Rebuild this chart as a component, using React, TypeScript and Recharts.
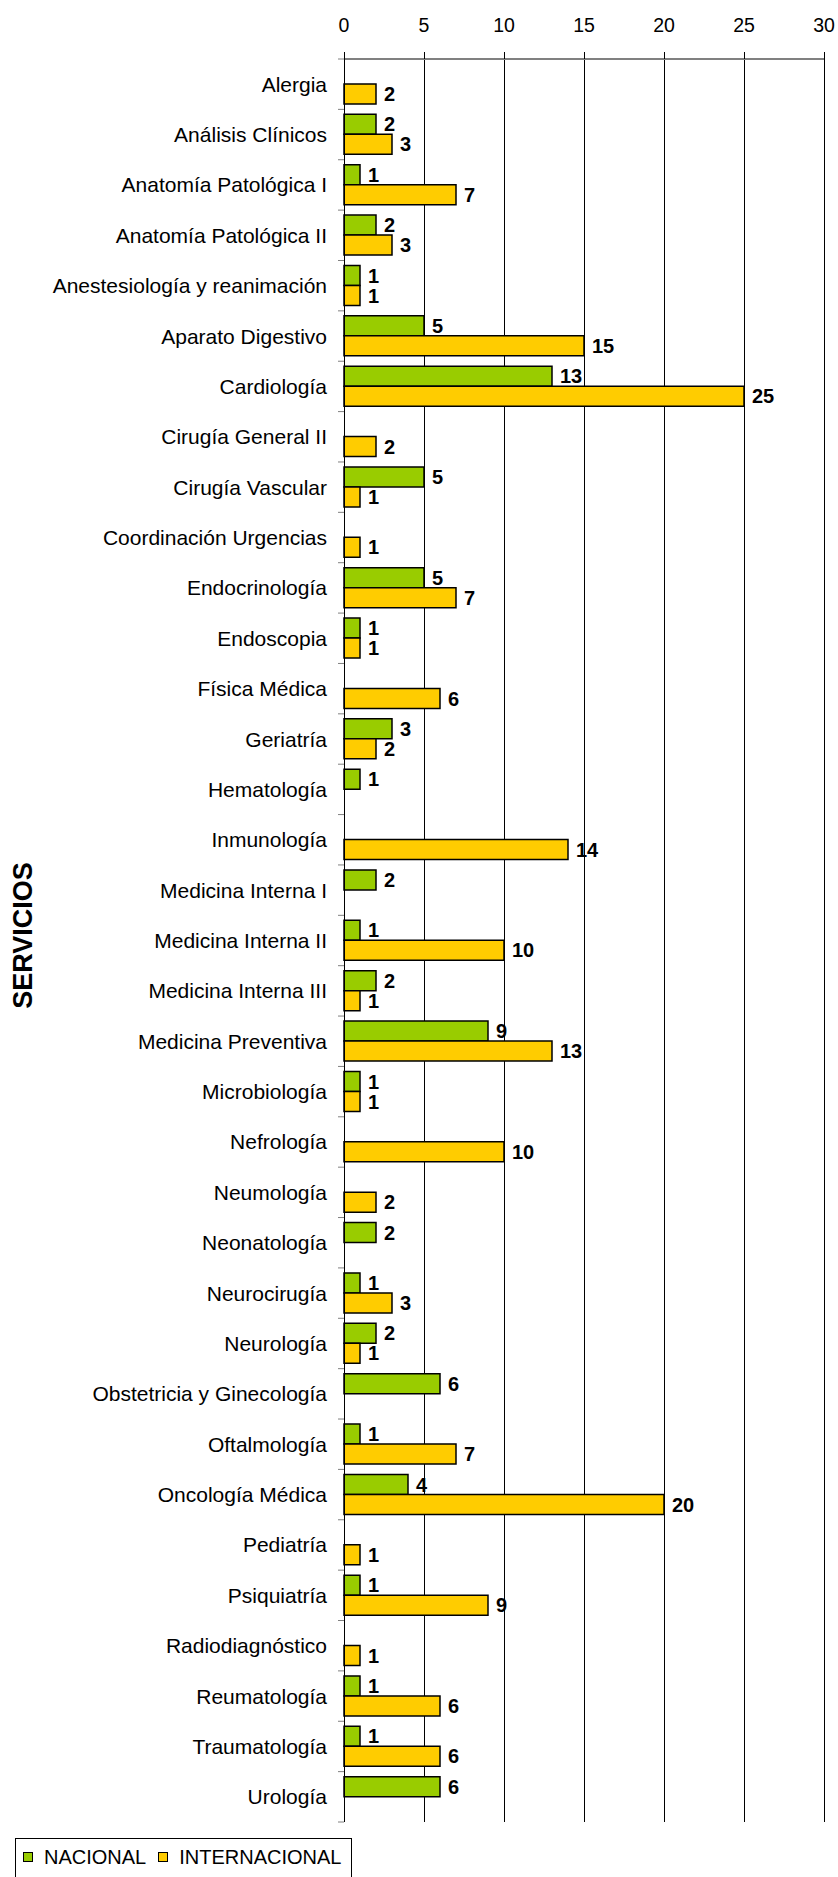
import React from 'react';
import {
  BarChart,
  Bar,
  XAxis,
  YAxis,
  CartesianGrid,
  LabelList,
  Legend
} from 'recharts';

const servicios = [
  'Alergia',
  'Análisis Clínicos',
  'Anatomía Patológica I',
  'Anatomía Patológica II',
  'Anestesiología y reanimación',
  'Aparato Digestivo',
  'Cardiología',
  'Cirugía General II',
  'Cirugía Vascular',
  'Coordinación Urgencias',
  'Endocrinología',
  'Endoscopia',
  'Física Médica',
  'Geriatría',
  'Hematología',
  'Inmunología',
  'Medicina Interna I',
  'Medicina Interna II',
  'Medicina Interna III',
  'Medicina Preventiva',
  'Microbiología',
  'Nefrología',
  'Neumología',
  'Neonatología',
  'Neurocirugía',
  'Neurología',
  'Obstetricia y Ginecología',
  'Oftalmología',
  'Oncología Médica',
  'Pediatría',
  'Psiquiatría',
  'Radiodiagnóstico',
  'Reumatología',
  'Traumatología',
  'Urología'
];

const nacional = [
  null, 2, 1, 2, 1, 5, 13, null, 5, null, 5, 1, null, 3, 1, null, 2, 1,
  2, 9, 1, null, null, 2, 1, 2, 6, 1, 4, null, 1, null, 1, 1, 6
];

const internacional = [
  2, 3, 7, 3, 1, 15, 25, 2, 1, 1, 7, 1, 6, 2, null, 14, null, 10,
  1, 13, 1, 10, 2, null, 3, 1, null, 7, 20, 1, 9, 1, 6, 6, null
];

const xTicks = [0, 5, 10, 15, 20, 25, 30];

const data = servicios.map((name, i) => ({
  name,
  nacional: nacional[i],
  internacional: internacional[i]
}));

const FONT = '"Liberation Sans", Arial, sans-serif';
const VERDE = '#99CC00';
const AMARILLO = '#FFCC00';

// category label plus a small grey tick at the top edge of each band
const ServiceTick = (props: any) => {
  const { x, y, payload, index } = props;
  const half = payload && payload.offset ? payload.offset : 25.2;
  return (
    <g>
      <line x1={x - 6} x2={x} y1={y - half} y2={y - half} stroke="#808080" />
      {index === servicios.length - 1 && (
        <line x1={x - 6} x2={x} y1={y + half} y2={y + half} stroke="#808080" />
      )}
      <text
        x={x - 17}
        y={y}
        dy={7.5}
        textAnchor="end"
        fontSize={21}
        fontFamily={FONT}
        fill="#000"
      >
        {payload.value}
      </text>
    </g>
  );
};

const LegendBox = () => {
  const items = [
    { label: 'NACIONAL', color: VERDE },
    { label: 'INTERNACIONAL', color: AMARILLO }
  ];
  return (
    <div
      style={{
        width: '100%',
        height: '100%',
        boxSizing: 'border-box',
        border: '1px solid #000',
        borderBottom: 'none',
        display: 'flex',
        alignItems: 'center',
        paddingLeft: 7,
        paddingBottom: 2,
        fontFamily: FONT,
        fontSize: 20,
        color: '#000'
      }}
    >
      {items.map((it) => (
        <span key={it.label} style={{ display: 'flex', alignItems: 'center', marginRight: 12 }}>
          <span
            style={{
              display: 'inline-block',
              width: 10,
              height: 10,
              boxSizing: 'border-box',
              border: '1px solid #000',
              background: it.color,
              marginRight: 11
            }}
          />
          {it.label}
        </span>
      ))}
    </div>
  );
};

const App: React.FC = () => {
  return (
    <div style={{ position: 'absolute', left: 0, top: 0, width: 838, height: 1877, background: '#fff' }}>
      <BarChart
        layout="vertical"
        width={838}
        height={1877}
        data={data}
        margin={{ top: 0, right: 14, left: 0, bottom: 16 }}
        barGap={0}
      >
        <CartesianGrid horizontal={false} stroke="#000" shapeRendering="crispEdges" />
        <XAxis
          type="number"
          orientation="top"
          domain={[0, 30]}
          ticks={xTicks}
          height={59}
          tickSize={7}
          tickMargin={20}
          axisLine={{ stroke: '#808080', strokeWidth: 2 }}
          tickLine={{ stroke: '#000', shapeRendering: 'crispEdges' }}
          tick={{ fontSize: 19.5, fill: '#000', fontFamily: FONT }}
        />
        <YAxis
          type="category"
          dataKey="name"
          width={344}
          interval={0}
          tickSize={0}
          tickMargin={0}
          tickLine={false}
          axisLine={{ stroke: '#000', shapeRendering: 'crispEdges' }}
          tick={<ServiceTick />}
          label={{
            content: (p: any) => {
              const vb = p.viewBox || { y: 0, height: 0 };
              const cy = vb.y + vb.height / 2 - 5;
              return (
                <text
                  x={32}
                  y={cy}
                  transform={`rotate(-90, 32, ${cy})`}
                  textAnchor="middle"
                  fontSize={27}
                  fontWeight="bold"
                  fontFamily={FONT}
                  fill="#000"
                >
                  SERVICIOS
                </text>
              );
            }
          }}
        />
        <Legend
          verticalAlign="bottom"
          content={<LegendBox />}
          wrapperStyle={{ top: 1838, left: 15, bottom: 'auto', width: 337, height: 39 }}
        />
        <Bar
          dataKey="nacional"
          name="NACIONAL"
          fill={VERDE}
          stroke="#000"
          strokeWidth={1.5}
          barSize={20}
          isAnimationActive={false}
        >
          <LabelList
            dataKey="nacional"
            position="right"
            offset={8}
            fontSize={20}
            fontWeight="bold"
            fontFamily={FONT}
            fill="#000"
          />
        </Bar>
        <Bar
          dataKey="internacional"
          name="INTERNACIONAL"
          fill={AMARILLO}
          stroke="#000"
          strokeWidth={1.5}
          barSize={20}
          isAnimationActive={false}
        >
          <LabelList
            dataKey="internacional"
            position="right"
            offset={8}
            fontSize={20}
            fontWeight="bold"
            fontFamily={FONT}
            fill="#000"
          />
        </Bar>
      </BarChart>
    </div>
  );
};

export default App;
